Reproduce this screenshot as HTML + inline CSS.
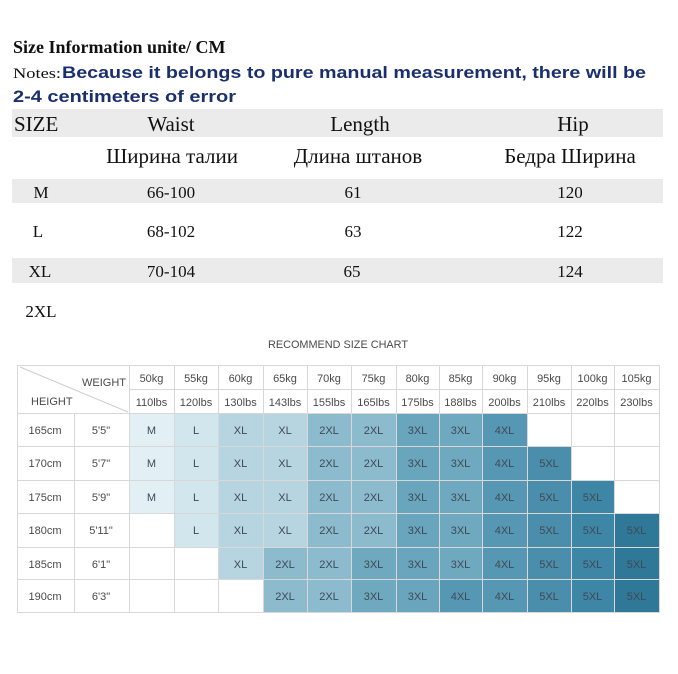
<!DOCTYPE html>
<html><head><meta charset="utf-8"><style>
html,body{margin:0;padding:0;background:#fff;width:678px;height:674px;overflow:hidden}
svg{display:block}
.s{font-family:"Liberation Serif",serif;fill:#111}
.c{font-family:"Liberation Sans",sans-serif;fill:#4a4a4a;font-size:11px}
</style></head><body>
<svg width="678" height="674" viewBox="0 0 678 674" xmlns="http://www.w3.org/2000/svg">
<text x="13" y="53" class="s" font-size="18" font-weight="bold">Size Information unite/ CM</text>
<text x="13" y="78" class="s" font-size="15" textLength="48" lengthAdjust="spacingAndGlyphs">Notes:</text>
<text x="62" y="78" font-family="Liberation Sans,sans-serif" font-weight="bold" font-size="17" fill="#1a2f6e" textLength="584" lengthAdjust="spacingAndGlyphs">Because it belongs to pure manual measurement, there will be</text>
<text x="13" y="102" font-family="Liberation Sans,sans-serif" font-weight="bold" font-size="17" fill="#1a2f6e" textLength="223" lengthAdjust="spacingAndGlyphs">2-4 centimeters of error</text>
<rect x="12" y="109" width="651" height="28" fill="#ebebeb"/>
<rect x="12" y="179" width="651" height="24" fill="#ebebeb"/>
<rect x="12" y="258" width="651" height="25" fill="#ebebeb"/>
<g class="s" font-size="21" text-anchor="middle">
<text x="14" y="131" text-anchor="start">SIZE</text>
<text x="171" y="131">Waist</text>
<text x="360" y="131">Length</text>
<text x="573" y="131">Hip</text>
<text x="172" y="163">Ширина талии</text>
<text x="358" y="163">Длина штанов</text>
<text x="570" y="163">Бедра Ширина</text>
</g>
<g class="s" font-size="17" text-anchor="middle">
<text x="41" y="198">M</text><text x="171" y="198">66-100</text><text x="353" y="198">61</text><text x="570" y="198">120</text>
<text x="38" y="237">L</text><text x="171" y="237">68-102</text><text x="353" y="237">63</text><text x="570" y="237">122</text>
<text x="40" y="277">XL</text><text x="171" y="277">70-104</text><text x="352" y="277">65</text><text x="570" y="277">124</text>
<text x="41" y="317">2XL</text>
</g>
<text x="338" y="348" class="c" font-size="13" text-anchor="middle" textLength="140" lengthAdjust="spacingAndGlyphs">RECOMMEND SIZE CHART</text>
<g id="cells"></g>
<g id="grid" stroke="#d8d8d8" stroke-width="1" fill="none">
<rect x="17.5" y="365.5" width="642" height="247"/>
</g>
<line x1="20" y1="367" x2="128" y2="412" stroke="#ccc"/>
<text x="82" y="386" class="c">WEIGHT</text>
<text x="31" y="405" class="c">HEIGHT</text>
<g id="txt" class="c" text-anchor="middle"></g>
</svg>
<script>
var xs=[17,74,129,174,218,263,307,351,396,439,482,527,571,614,659];
var ys=[365,389,413,446,480,513,547,579,612];
var kg=["50kg","55kg","60kg","65kg","70kg","75kg","80kg","85kg","90kg","95kg","100kg","105kg"];
var lb=["110lbs","120lbs","130lbs","143lbs","155lbs","165lbs","175lbs","188lbs","200lbs","210lbs","220lbs","230lbs"];
var hc=["165cm","170cm","175cm","180cm","185cm","190cm"],hf=["5'5\"","5'7\"","5'9\"","5'11\"","6'1\"","6'3\""];
var d=[
"M L XL XL 2XL 2XL 3XL 3XL 4XL - - -",
"M L XL XL 2XL 2XL 3XL 3XL 4XL 5XL - -",
"M L XL XL 2XL 2XL 3XL 3XL 4XL 5XL 5XL -",
"- L XL XL 2XL 2XL 3XL 3XL 4XL 5XL 5XL 5XL",
"- - XL 2XL 2XL 3XL 3XL 3XL 4XL 5XL 5XL 5XL",
"- - - 2XL 2XL 3XL 3XL 4XL 4XL 5XL 5XL 5XL"];
var col={"M":"#e2eff4","L":"#d2e6ee","XL":"#b6d5e1","2XL":"#8cbbcd","3XL":"#6ea9c0","4XL":"#5698b3","5XL":"#4a8eac"};
var ns="http://www.w3.org/2000/svg",C=document.getElementById("cells"),G=document.getElementById("grid"),T=document.getElementById("txt");
function el(p,t,a,s){var e=document.createElementNS(ns,t);for(var k in a)e.setAttribute(k,a[k]);if(s)e.textContent=s;p.appendChild(e);}
for(var r=0;r<6;r++){var v=d[r].split(" ");for(var c=0;c<12;c++){if(v[c]=="-")continue;var f=col[v[c]];
if(c>=10&&v[c]=="5XL")f=c==11?"#2f7898":"#3e86a6";if(c==6&&v[c]=="3XL")f="#69a5bd";
el(C,"rect",{x:xs[c+2],y:ys[r+2],width:xs[c+3]-xs[c+2],height:ys[r+3]-ys[r+2],fill:f});
el(T,"text",{x:(xs[c+2]+xs[c+3])/2,y:ys[r+2]+21,fill:"#3f4a55"},v[c]);}
el(T,"text",{x:45,y:ys[r+2]+21},hc[r]);el(T,"text",{x:101,y:ys[r+2]+21},hf[r]);}
for(var c=0;c<12;c++){var m=(xs[c+2]+xs[c+3])/2;el(T,"text",{x:m,y:382},kg[c]);el(T,"text",{x:m,y:406},lb[c]);}
for(var i=1;i<14;i++){var y0=i==1?413:365;el(G,"line",{x1:xs[i]+.5,y1:y0,x2:xs[i]+.5,y2:612});}
el(G,"line",{x1:129,y1:389.5,x2:659,y2:389.5});
for(var j=2;j<8;j++)el(G,"line",{x1:17,y1:ys[j]+.5,x2:659,y2:ys[j]+.5});
</script>
</body></html>
